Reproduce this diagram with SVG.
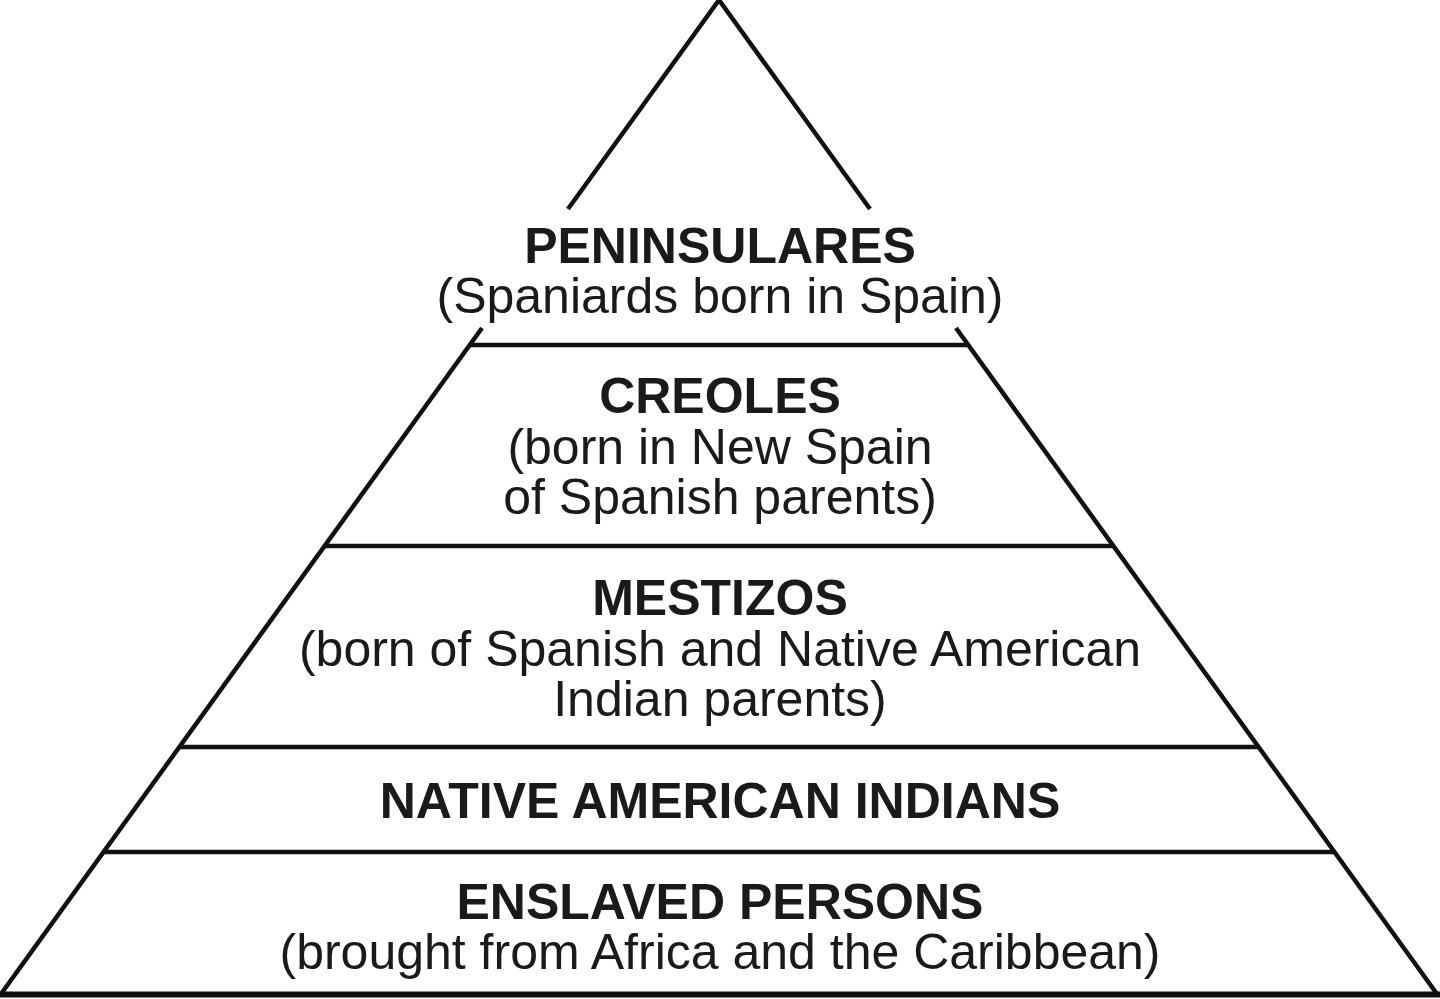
<svg xmlns="http://www.w3.org/2000/svg" width="1440" height="999" viewBox="0 0 1440 999">
<style>
.ln{stroke:#111;stroke-width:4.5;fill:none;stroke-linecap:butt;stroke-linejoin:miter}
.t{font-family:"Liberation Sans",Arial,sans-serif;font-size:50px;fill:#1a1a1a;text-anchor:middle}
.b{font-weight:bold}
</style>
<rect width="1440" height="999" fill="#fff"/>
<g id="connectors">
<polyline class="ln" points="568,209 719,0 870,209"/>
<line class="ln" x1="482" y1="328" x2="1" y2="994"/>
<line class="ln" x1="956" y1="328" x2="1437" y2="994"/>
<line class="ln" x1="470" y1="345" x2="968" y2="345"/>
<line class="ln" x1="325" y1="546" x2="1113" y2="546"/>
<line class="ln" x1="179" y1="747" x2="1259" y2="747"/>
<line class="ln" x1="104" y1="852" x2="1334" y2="852"/>
<line class="ln" x1="0" y1="994.5" x2="1440" y2="994.5" style="stroke-width:6"/>
</g>
<g id="peninsulares">
<text class="t b" x="720" y="263">PENINSULARES</text>
<text class="t" x="720" y="313">(Spaniards born in Spain)</text>
</g>
<g id="creoles">
<text class="t b" x="720" y="413">CREOLES</text>
<text class="t" x="720" y="464">(born in New Spain</text>
<text class="t" x="720" y="514">of Spanish parents)</text>
</g>
<g id="mestizos">
<text class="t b" x="720" y="615">MESTIZOS</text>
<text class="t" x="720" y="666">(born of Spanish and Native American</text>
<text class="t" x="720" y="716">Indian parents)</text>
</g>
<g id="native">
<text class="t b" x="720" y="818">NATIVE AMERICAN INDIANS</text>
</g>
<g id="enslaved">
<text class="t b" x="720" y="919">ENSLAVED PERSONS</text>
<text class="t" x="720" y="969">(brought from Africa and the Caribbean)</text>
</g>
</svg>
